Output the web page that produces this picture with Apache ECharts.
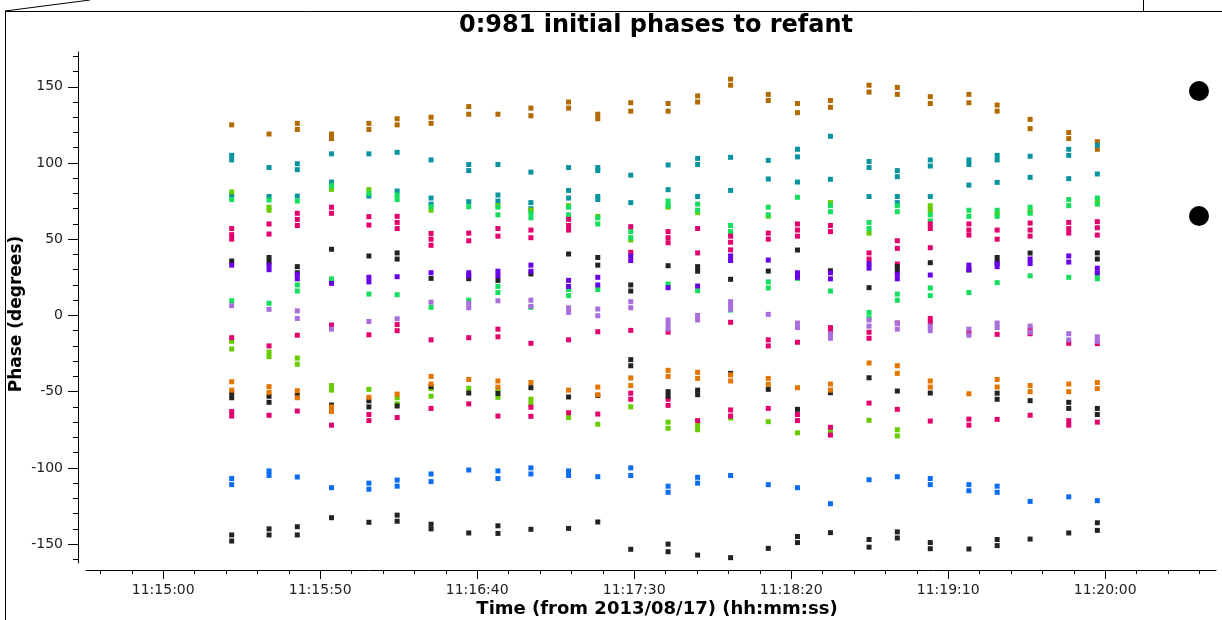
<!DOCTYPE html>
<html><head><meta charset="utf-8">
<script src="https://cdn.jsdelivr.net/npm/echarts@6/dist/echarts.min.js"></script>
<style>html,body{margin:0;padding:0;background:#fff}#c{width:1222px;height:620px}</style>
</head><body><div id="c"></div>
<script>
// ---- data ----
const titleText = '0:981 initial phases to refant';
const xName = 'Time (from 2013/08/17) (hh:mm:ss)';
const yName = 'Phase (degrees)';
const times = ['11:15:21.8','11:15:33.7','11:15:42.7','11:15:53.6','11:16:05.5','11:16:14.5','11:16:25.3','11:16:37.3','11:16:46.6','11:16:57.1','11:17:09.1','11:17:18.4','11:17:28.9','11:17:40.8','11:17:50.2','11:18:00.7','11:18:12.7','11:18:22.0','11:18:32.5','11:18:44.8','11:18:53.8','11:19:04.3','11:19:16.6','11:19:25.6','11:19:36.1','11:19:48.4','11:19:57.5'];
const timeTickLabels = ['11:15:00','11:15:50','11:16:40','11:17:30','11:18:20','11:19:10','11:20:00'];
const phaseTickLabels = [-150,-100,-50,0,50,100,150];

const brown = [[125],[119],[126,122],[119,116],[126,122],[129,125],[130,126],[137,132],[132],[136,131],[140,136],[132,129],[139.5,134],[139,134],[144,140],[155,151],[145,141],[139,133],[141,136.5],[151,146.5],[149.6,145],[143.5,139],[145,139.5],[138,134],[128.6,122.5],[120,116],[114,109]];
const teal = [[105,102,79],[97,78],[99.5,95.6,78.3],[106,87.5],[106,78.3],[107,81.6],[102,77,73],[99,95,74.6],[99,79,75],[94,74,70],[97,82,77],[97,95,78,76],[92,74],[98.7,82.5],[103,99,78],[103.7,82],[101.7,89.5],[109,104,87.5],[117.5,89.3],[101,97,78],[95,91,78,74],[102,98,78],[102,99,85.5],[105,102,87.3],[104.4,90.6],[109,105,89.7],[111.6,92.8]];
const lime = [[81,-17,-22],[71,69,-24,-27],[-28,-32],[82.7,-46,-49],[82.5,-48.5],[-54,-58],[69,-48,-53],[-47.8],[72,-48.5,-53.7],[69,-55,-58],[72,-67],[65,-71.4],[49.5,-60],[71,-70,-74],[67.4,-72,-75],[54.2,-67.3],[65,-69.7],[-77],[74,-76],[54,-68.8],[-75,-79],[72,69],[],[67],[68],[],[75]];
const green = [[76,9.6],[75.7,8],[75,20,16],[85,24],[80,14],[79,76,13.6],[71.3,5.3],[71.3,10],[71,66,19,15],[67,64,5.3],[71,66,17,13],[64,60,17],[55,51],[75,72,20.6],[73,69,16.2],[59,55,3.5],[71,66,22,18],[77.5,24.3],[72,68,16],[61,57,2,-1.5],[72,68,14,10],[66,62,18,13],[69,65,15],[69,65,21.5],[71,67,26],[76,72,25],[77,73,27,24]];
const magenta = [[57,53,50,-14.6,-63,-66],[60,53.4,-20,-65.5],[67,63,59,-13,-62.7],[71,67,-6.3,-72],[64.8,59.3,-12.7,-65,-69],[65,61,57,-6,-10,-67],[53.8,50,46,-16,-61],[54,49,-14.6,-58],[57,52,-9,-14,-66],[56,51,-18.3,-60.2,-66.2],[63,59,56,-16,-63.8],[-10.7,-64.7],[58.2,41.4,-9.8,-51,-55],[55,51,47.7,-11,-55,-59],[57,41,-69],[52,48,43,-4.5,-62,-66],[54,50,-16,-20,-61],[60,56,52,-17.6,-65,-69],[59,55,-8,-11,-73.4,-78.5],[41,37,-11,-15,-57.5],[49,44,33.7,-5,-61.6],[60,57,44.4,-2,-5,-69.3],[60,56,52.7,-11.3,-68,-72],[56,50,-12.4,-68.2],[60.6,56,52,-9,-12,-65.5],[61,57,54,-18.3,-69,-72],[61.5,57.5,52.7,-18.5,-70]];
const black = [[35.7,-51,-54,-144,-148],[38,35,-53,-57,-140,-144],[32,28,-52,-138.6,-144],[43.4,-58.8,-132.7],[39,-56,-60,-135.7],[41,37,-59.4,-131,-135],[24.3,-46.7,-137,-140],[24.1,-50.9,-142.7],[23,-51.2,-138,-143],[27.2,-47.4,-140.3],[40.3,-53.5,-139.7],[38,33,-52.5,-135.5],[20,16,-29,-33,-153.4],[32.6,-50,-53,-150,-155],[32,29,-49,-52,-157.2],[23.7,-38,-158.9],[29.1,-48.5,-152.8],[42.9,-61.6,-145,-149],[29.3,-50.7,-142.5],[18.2,-40.9,-147,-152],[32,29,-49.6,-142,-146],[34.6,-50.9,-149,-153],[29.8,-153.2],[38,35,-51,-55,-147,-151],[40.9,-55.9,-146.7],[-57,-61,-142.7],[41,37,-61,-65,-136,-141]];
const purple = [[33],[33,30],[27,24],[21],[25,22],[25.4],[28],[28,26],[29,26],[33,29],[23,19],[25,20],[39,36],[18.2],[19.3],[39,36],[36.3],[28,25],[28,24],[34,31],[27,24],[26.5],[33,30],[34,32],[37,34],[39,35],[31,28]];
const lavender = [[6.4],[4],[3,-2],[-9],[-4],[-2.2],[8.7],[8,5],[9.6],[10,6],[5,2],[4.2,-0.2],[9,5],[-3,-6,-9],[0,-3],[9,6,4],[0.7],[-5,-8],[-12,-15],[-3,-7],[-5,-9],[-7,-10],[-9,-13],[-5,-8],[-7,-11],[-12,-16],[-14,-17]];
const orange = [[-43.5,-49],[-46.7,-50.5],[-49.4,-54],[-60,-63],[-53.7],[-51.6],[-40,-45],[-42],[-43,-47],[-44],[-49],[-47,-52],[-41,-46],[-36,-40],[-37.3,-41.3],[-39,-43],[-41.3,-45.2],[-47.4],[-45,-49],[-31.2],[-33,-38],[-43,-47],[-51.4],[-42,-47],[-46,-50],[-45,-50],[-44,-48]];
const blue = [[-107,-111],[-102,-105],[-106],[-113],[-110,-114],[-108,-112],[-104,-109],[-101.4],[-102,-107],[-100,-104],[-102,-105],[-105.8],[-100,-105],[-112,-116],[-106.2,-110],[-105],[-111],[-113],[-123.5],[-107.8],[-105.8],[-107,-111],[-111,-115],[-112,-116],[-122],[-119],[-121.5]];

// ---- helpers ----
function toSec(s){const p=s.split(':');return (+p[0])*3600+(+p[1])*60+(+p[2]);}
function pad(n){return (n<10?'0':'')+n;}
function fmt(sec){sec=Math.round(sec);const h=Math.floor(sec/3600),m=Math.floor((sec%3600)/60),s=sec%60;return pad(h)+':'+pad(m)+':'+pad(s);}
const tSec = times.map(toSec);
function pts(arr){const out=[];arr.forEach((vals,i)=>vals.forEach(v=>out.push([tSec[i],v])));return out;}

const xMin = 40475.4, xMax = 40835.3;
const yMin = -162.4, yMax = 172.8;
const xMajor = timeTickLabels.map(toSec);
const xMinor = []; for (let t=Math.ceil(xMin/10)*10; t<=xMax; t+=10) xMinor.push(t);
const yMinor = []; for (let v=Math.ceil(yMin/10)*10; v<=yMax; v+=10) yMinor.push(v);

const seriesDefs = [
  ['brown', brown, '#b06a00'],
  ['teal', teal, '#08949f'],
  ['lime', lime, '#66cc00'],
  ['green', green, '#14de5c'],
  ['magenta', magenta, '#e4006c'],
  ['black', black, '#222222'],
  ['purple', purple, '#6a00e6'],
  ['lavender', lavender, '#a96ddc'],
  ['orange', orange, '#e37500'],
  ['blue', blue, '#0a6cf2']
];

const font = 'DejaVu Sans';
const chart = echarts.init(document.getElementById('c'), null, {renderer:'canvas'});
chart.setOption({
  animation: false,
  backgroundColor: '#fff',
  grid: {left: 86, right: 6, top: 52, bottom: 57},
  xAxis: [
    {type:'value', position:'bottom', offset:7, min:xMin, max:xMax,
     axisLine:{show:true, onZero:false, lineStyle:{color:'#000', width:1}},
     axisTick:{show:true, customValues:xMajor, length:9, lineStyle:{color:'#000'}},
     axisLabel:{show:true, customValues:xMajor, formatter:v=>fmt(v), color:'#222', fontFamily:font, fontSize:14, margin:13},
     splitLine:{show:false}},
    {type:'value', position:'bottom', offset:7, min:xMin, max:xMax,
     axisLine:{show:false, onZero:false},
     axisTick:{show:true, customValues:xMinor, length:4, lineStyle:{color:'#000'}},
     axisLabel:{show:false}, splitLine:{show:false}}
  ],
  yAxis: [
    {type:'value', position:'left', offset:8, min:yMin, max:yMax,
     axisLine:{show:true, onZero:false, lineStyle:{color:'#000', width:1}},
     axisTick:{show:true, customValues:phaseTickLabels, length:10, lineStyle:{color:'#000'}},
     axisLabel:{show:true, customValues:phaseTickLabels, color:'#222', fontFamily:font, fontSize:14, margin:15},
     splitLine:{show:false}},
    {type:'value', position:'left', offset:8, min:yMin, max:yMax,
     axisLine:{show:false, onZero:false},
     axisTick:{show:true, customValues:yMinor, length:5, lineStyle:{color:'#000'}},
     axisLabel:{show:false}, splitLine:{show:false}}
  ],
  series: seriesDefs.map(([name, arr, color]) => ({
    name, type:'scatter', xAxisIndex:0, yAxisIndex:0,
    symbol:'rect', symbolSize:[5,5],
    itemStyle:{color, opacity:1},
    emphasis:{disabled:true},
    data: pts(arr)
  })),
  graphic: [
    {type:'line', shape:{x1:5,y1:11.5,x2:1222,y2:11.5}, style:{stroke:'#000', lineWidth:1}, silent:true},
    {type:'line', shape:{x1:5.5,y1:11,x2:5.5,y2:620}, style:{stroke:'#000', lineWidth:1}, silent:true},
    {type:'line', shape:{x1:5,y1:11,x2:90,y2:0}, style:{stroke:'#000', lineWidth:1}, silent:true},
    {type:'line', shape:{x1:1143.5,y1:0,x2:1143.5,y2:11}, style:{stroke:'#000', lineWidth:1}, silent:true},
    {type:'circle', shape:{cx:1199, cy:91, r:10}, style:{fill:'#000'}, silent:true},
    {type:'circle', shape:{cx:1199, cy:216, r:10}, style:{fill:'#000'}, silent:true},
    {type:'text', x:656, y:26, silent:true, style:{text:titleText, font:'bold 24px "DejaVu Sans"', fill:'#000', textAlign:'center', textVerticalAlign:'middle', align:'center', verticalAlign:'middle'}},
    {type:'text', x:657, y:609, silent:true, style:{text:xName, font:'bold 18px "DejaVu Sans"', fill:'#000', textAlign:'center', textVerticalAlign:'middle', align:'center', verticalAlign:'middle'}},
    {type:'text', x:17, y:314, rotation:Math.PI/2, silent:true, style:{text:yName, font:'bold 17px "DejaVu Sans"', fill:'#000', textAlign:'center', textVerticalAlign:'middle', align:'center', verticalAlign:'middle'}}
  ]
});
</script></body></html>
